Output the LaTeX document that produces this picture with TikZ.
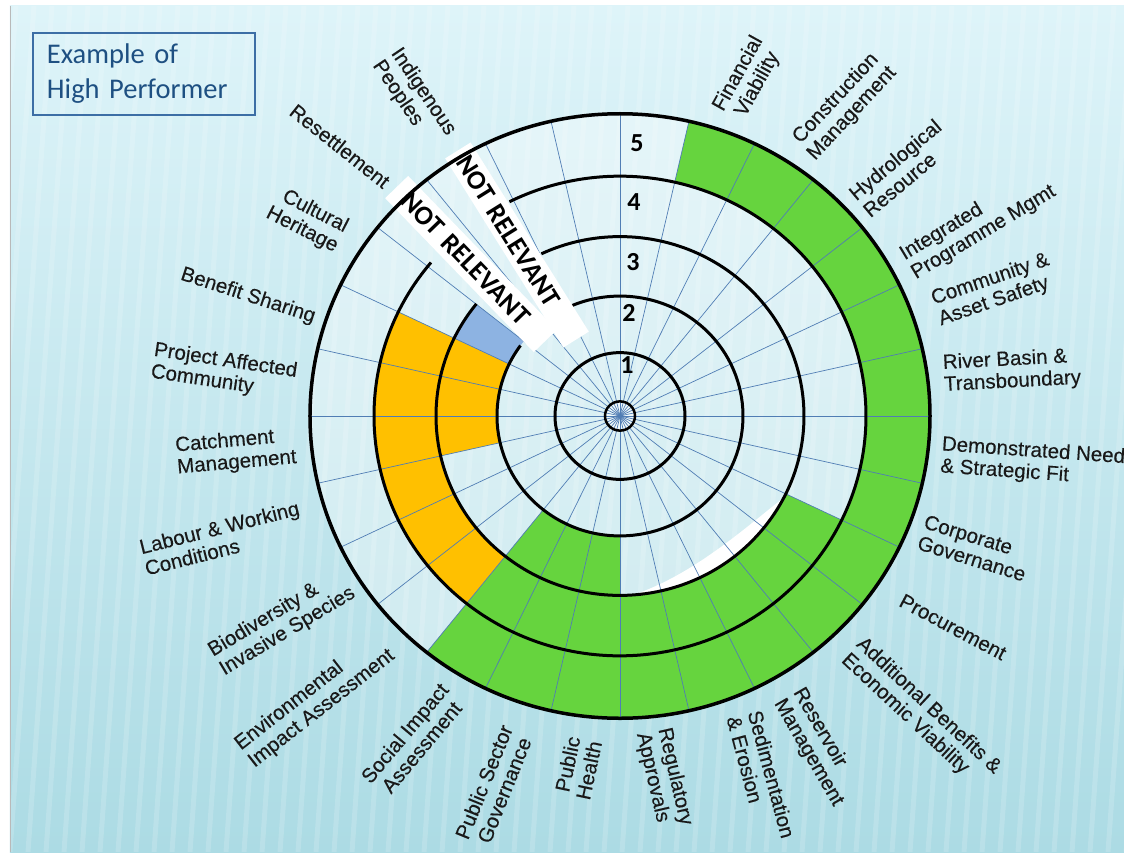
\documentclass[tikz,border=0pt]{standalone}
\usepackage{fontspec}
\setmainfont{Liberation Sans}
\newfontfamily\lblfam[FakeBold=0.25]{Liberation Sans}
\newfontfamily\calibri{Carlito}
\definecolor{bgtop}{RGB}{222,244,249}
\definecolor{bgbot}{RGB}{172,219,228}
\definecolor{grn}{RGB}{102,212,62}
\definecolor{org}{RGB}{255,192,0}
\definecolor{blu}{RGB}{141,179,226}
\definecolor{spoke}{RGB}{80,125,180}
\definecolor{boxline}{RGB}{60,110,165}
\definecolor{boxtext}{RGB}{30,80,130}
\newcommand\lblfont{\lblfam\fontsize{20.5}{22}\selectfont}
\newcommand\band[5]{\fill[#1] (#2:#4) arc[start angle=#2,end angle=#3,radius=#4] -- (#3:#5) arc[start angle=#3,end angle=#2,radius=#5] -- cycle;}
\begin{document}
\begin{tikzpicture}[x=1pt,y=1pt,
  lbl/.style={font=\lblfont, inner sep=0pt, text=black!90},
  ringline/.style={line width=3pt, black},
  spk/.style={draw=spoke, line width=0.7pt},
  nrband/.style={fill=white, inner sep=0pt, font=\calibri\bfseries\fontsize{27}{27}\selectfont, align=left},
  num/.style={font=\calibri\bfseries\fontsize{26}{26}\selectfont, inner sep=0pt}]
\useasboundingbox (-620,-436) rectangle (504,416);
% slide background
\fill[white] (-620,-436) rectangle (504,416);
\shade[top color=bgtop, bottom color=bgbot] (-610,-436) rectangle (504,410);
\begin{scope}
\clip (-610,-436) rectangle (504,410);
\foreach \k in {0,...,70} {\draw[white, opacity=0.16, line width=5pt] ({-700+\k*18},-436) -- ({-640+\k*18},410);}
\end{scope}
\draw[gray!55, line width=0.8pt] (-610,-436) -- (-610,410);
% chart
\begin{scope}[yscale=0.975]
\fill[white, opacity=0.35] (0,0) circle[radius=310];
\band{grn}{-128.571}{77.143}{246}{310}
\band{grn}{-128.571}{-25.714}{184}{246}
\band{grn}{-128.571}{-90}{123}{184}
\band{org}{154.286}{231.429}{184}{246}
\band{org}{154.286}{192.857}{123}{184}
\band{blu}{141.429}{154.286}{123}{184}
\fill[white] (-27:184) arc[start angle=-27,end angle=-86,radius=184] .. controls (-66:179) and (-42:170) .. (-27:184) -- cycle;
\fill[white, opacity=0.6] (0,0) circle[radius=15];
\foreach \k in {0,...,27} {\draw[spk] (0,0) -- ({90-\k*360/28}:310);}
\draw[line width=2.5pt] (0,0) circle[radius=15];
\draw[ringline] (0,0) circle[radius=65];
\draw[ringline] (144:123) arc[start angle=144,end angle=473,radius=123];
\draw[ringline] (141.3:184) arc[start angle=141.3,end angle=475.3,radius=184];
\draw[ringline] (140.2:246) arc[start angle=140.2,end angle=476.7,radius=246];
\end{scope}
% not relevant bands
\node[nrband, rotate=-46, minimum width=214pt, minimum height=32pt, text width=214pt] (nrA) at (-149,152) {\hspace*{13pt}NOT RELEVANT};
\node[nrband, rotate=-58, minimum width=223pt, minimum height=30pt, text width=223pt] (nrB) at (-103,171) {\hspace*{9pt}NOT RELEVANT};
\begin{scope}[yscale=0.975]
\draw[line width=3.5pt] (0,0) circle[radius=310];
\end{scope}
% numbers
\node[num] (n5) at (17,273) {5};
\node[num] (n4) at (14,214) {4};
\node[num] (n3) at (13,154) {3};
\node[num] (n2) at (9,103) {2};
\node[num] (n1) at (7,51) {1};
% title box
\node[draw=boxline, line width=1.5pt, minimum width=222pt, minimum height=82pt, text width=194pt, inner xsep=14pt, align=left, text=boxtext, font=\calibri\fontsize{28.5}{35}\selectfont] (title) at (-476,342) {Example of\\High Performer};
% labels
\node[lbl, rotate=61, align=center] (fin) at (128,337) {Financial\\Viability};
\node[lbl, rotate=47, align=center] (con) at (224,310) {Construction\\Management};
\node[lbl, rotate=40, align=left] (hyd) at (282,248) {Hydrological\\Resource};
\node[lbl, rotate=31, align=left] (ipm) at (358,193) {Integrated\\Programme Mgmt};
\node[lbl, rotate=19, align=left] (cas) at (374,126) {Community \&\\Asset Safety};
\node[lbl, rotate=3, align=left] (rbt) at (392,45) {River Basin \&\\Transboundary};
\node[lbl, rotate=-4, align=left, anchor=west] (dns) at (321,-40) {Demonstrated Need\\\& Strategic Fit};
\node[lbl, rotate=-17, align=left] (cgv) at (355,-132) {Corporate\\Governance};
\node[lbl, rotate=-28] (pro) at (333,-211) {Procurement};
\node[lbl, rotate=-43, align=left] (abe) at (301,-298) {Additional Benefits \&\\Economic Viability};
\node[lbl, rotate=-60, align=left] (rsm) at (198,-331) {Reservoir\\Management};
\node[lbl, rotate=-75, align=left] (sed) at (141,-361) {Sedimentation\\\& Erosion};
\node[lbl, rotate=-77, align=left] (reg) at (44,-363) {Regulatory\\Approvals};
\node[lbl, rotate=78, align=right] (phl) at (-42,-352) {Public\\Health};
\node[lbl, rotate=68, align=center] (psg) at (-126,-370) {Public Sector\\Governance};
\node[lbl, rotate=50, align=center] (sia) at (-207,-324) {Social Impact\\Assessment};
\node[lbl, rotate=38, align=left] (eia) at (-305,-284) {Environmental\\Impact Assessment};
\node[lbl, rotate=31, align=left] (bio) at (-338,-206) {Biodiversity \&\\Invasive Species};
\node[lbl, rotate=14, align=left] (lab) at (-398,-122) {Labour \& Working\\Conditions};
\node[lbl, rotate=5, align=left] (cat) at (-384,-36) {Catchment\\Management};
\node[lbl, rotate=-8.5, align=left] (pac) at (-396,44) {Project Affected\\Community};
\node[lbl, rotate=-18] (ben) at (-372,120) {Benefit Sharing};
\node[lbl, rotate=-27, align=right] (cul) at (-313,196) {Cultural\\Heritage};
\node[lbl, rotate=-38.5] (rst) at (-280,270) {Resettlement};
\node[lbl, rotate=-56, align=left] (ind) at (-206,318) {Indigenous\\Peoples};
\end{tikzpicture}
\end{document}
